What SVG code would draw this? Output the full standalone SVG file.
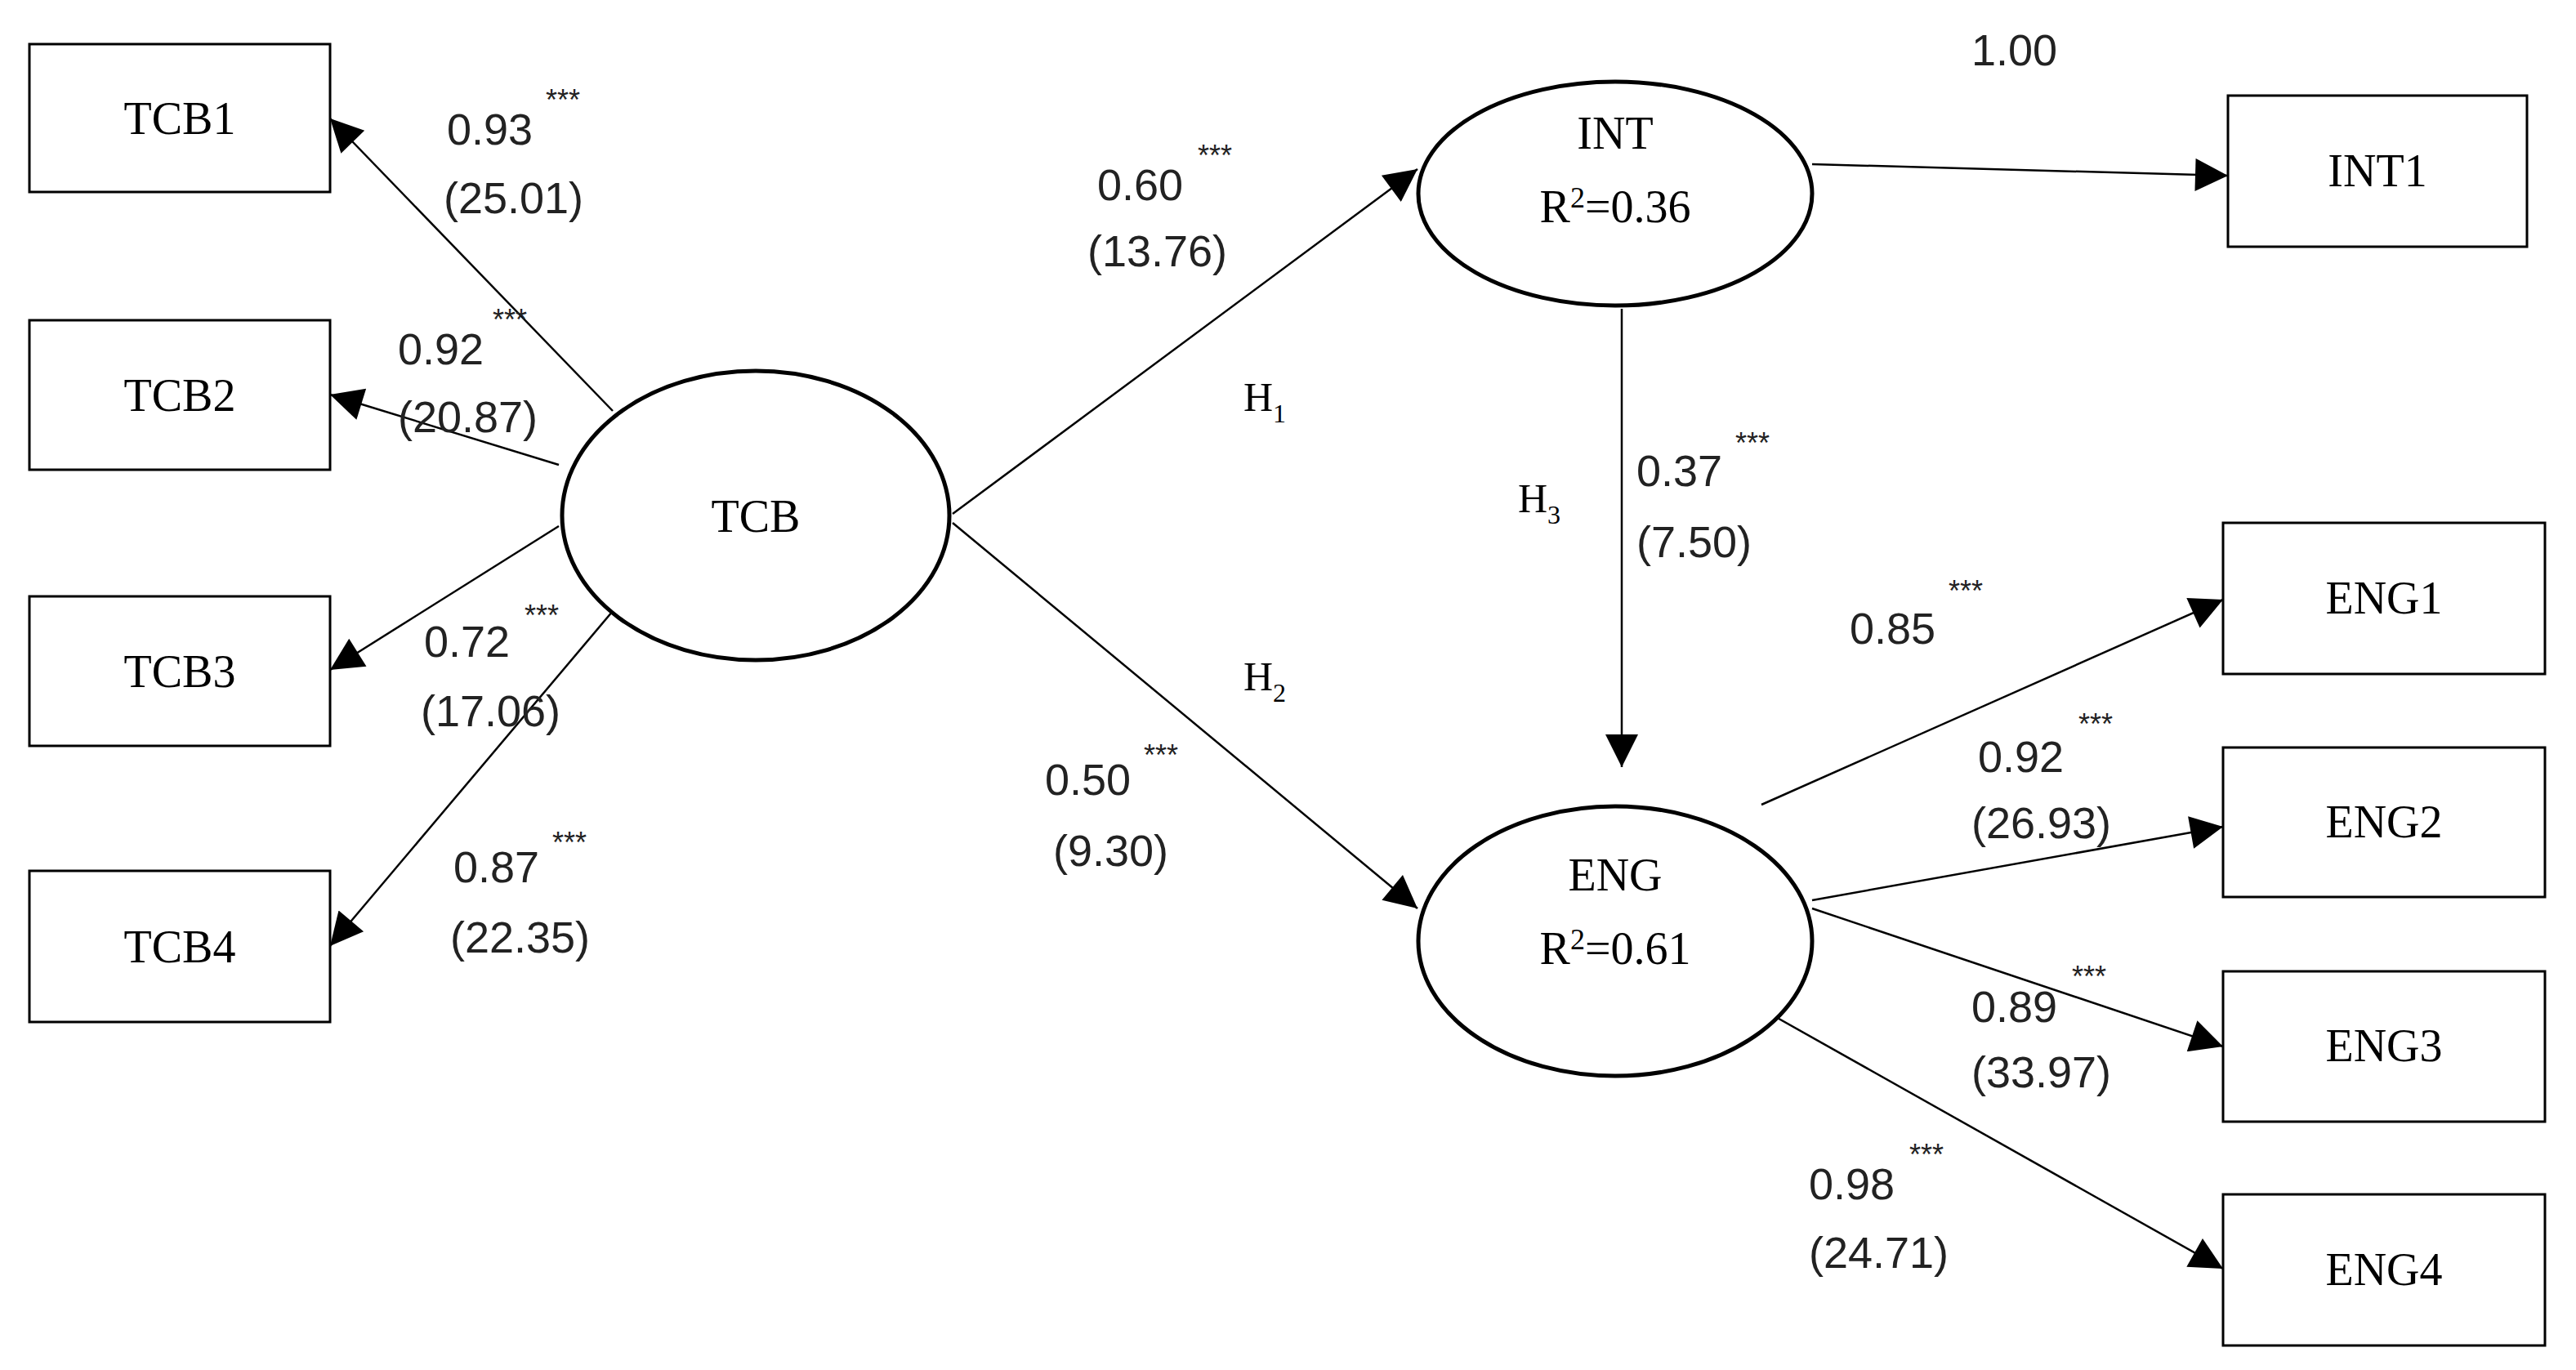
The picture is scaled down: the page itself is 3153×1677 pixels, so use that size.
<svg xmlns="http://www.w3.org/2000/svg" width="3153" height="1677" viewBox="0 0 3153 1677">
<style>
.b{fill:#fff;stroke:#000;stroke-width:3}
.e{fill:#fff;stroke:#000;stroke-width:5}
.n{font-family:"Liberation Serif",serif;font-size:56px;text-anchor:middle;fill:#000}
.l{font-family:"Liberation Sans",sans-serif;font-size:54px;fill:#222}
.s{font-family:"Liberation Sans",sans-serif;font-size:36px;fill:#222}
.h{font-family:"Liberation Serif",serif;font-size:50px;fill:#000}
.c line{stroke:#000;stroke-width:2.5}
</style>
<defs>
<marker id="a2" viewBox="0 0 10 10" refX="10" refY="5" markerWidth="42" markerHeight="40" markerUnits="userSpaceOnUse" orient="auto"><path d="M0,0L10,5L0,10z"/></marker></defs>
<rect width="3153" height="1677" fill="#fff"/>
<g class="c">
<line x1="750" y1="503" x2="404" y2="145" marker-end="url(#a2)"/>
<line x1="684" y1="569" x2="404" y2="483" marker-end="url(#a2)"/>
<line x1="684" y1="644" x2="404" y2="820" marker-end="url(#a2)"/>
<line x1="750" y1="748" x2="404" y2="1158" marker-end="url(#a2)"/>
<line x1="1166" y1="629" x2="1735" y2="207" marker-end="url(#a2)"/>
<line x1="1166" y1="640" x2="1735" y2="1112" marker-end="url(#a2)"/>
<line x1="2218" y1="201" x2="2727" y2="215" marker-end="url(#a2)"/>
<line x1="1985" y1="378" x2="1985" y2="939" marker-end="url(#a2)"/>
<line x1="2156" y1="985" x2="2721" y2="734" marker-end="url(#a2)"/>
<line x1="2218" y1="1102" x2="2721" y2="1012" marker-end="url(#a2)"/>
<line x1="2218" y1="1112" x2="2721" y2="1281" marker-end="url(#a2)"/>
<line x1="2156" y1="1235" x2="2721" y2="1553" marker-end="url(#a2)"/>
</g>
<g id="TCB1"><rect class="b" x="36" y="54" width="368" height="181"/><text class="n" x="220" y="164">TCB1</text></g>
<g id="TCB2"><rect class="b" x="36" y="392" width="368" height="183"/><text class="n" x="220" y="503">TCB2</text></g>
<g id="TCB3"><rect class="b" x="36" y="730" width="368" height="183"/><text class="n" x="220" y="841">TCB3</text></g>
<g id="TCB4"><rect class="b" x="36" y="1066" width="368" height="185"/><text class="n" x="220" y="1178">TCB4</text></g>
<g id="TCB"><ellipse class="e" cx="925" cy="631" rx="237" ry="177"/><text class="n" x="925" y="651">TCB</text></g>
<g id="INT"><ellipse class="e" cx="1977" cy="237" rx="241" ry="137"/><text class="n" x="1977" y="182">INT</text><text class="n" x="1977" y="272">R<tspan font-size="36" dy="-18">2</tspan><tspan dy="18">=0.36</tspan></text></g>
<g id="ENG"><ellipse class="e" cx="1977" cy="1152" rx="241" ry="165"/><text class="n" x="1977" y="1090">ENG</text><text class="n" x="1977" y="1180">R<tspan font-size="36" dy="-18">2</tspan><tspan dy="18">=0.61</tspan></text></g>
<g id="INT1"><rect class="b" x="2727" y="117" width="366" height="185"/><text class="n" x="2910" y="228">INT1</text></g>
<g id="ENG1"><rect class="b" x="2721" y="640" width="394" height="185"/><text class="n" x="2918" y="751">ENG1</text></g>
<g id="ENG2"><rect class="b" x="2721" y="915" width="394" height="183"/><text class="n" x="2918" y="1025">ENG2</text></g>
<g id="ENG3"><rect class="b" x="2721" y="1189" width="394" height="184"/><text class="n" x="2918" y="1299">ENG3</text></g>
<g id="ENG4"><rect class="b" x="2721" y="1462" width="394" height="185"/><text class="n" x="2918" y="1573">ENG4</text></g>
<g id="labels">
<text class="l" x="547" y="177">0.93</text><text class="s" x="668" y="135">***</text><text class="l" x="543" y="261">(25.01)</text>
<text class="l" x="487" y="446">0.92</text><text class="s" x="603" y="404">***</text><text class="l" x="487" y="529">(20.87)</text>
<text class="l" x="519" y="804">0.72</text><text class="s" x="642" y="766">***</text><text class="l" x="515" y="889">(17.06)</text>
<text class="l" x="555" y="1080">0.87</text><text class="s" x="676" y="1044">***</text><text class="l" x="551" y="1166">(22.35)</text>
<text class="l" x="1343" y="245">0.60</text><text class="s" x="1466" y="203">***</text><text class="l" x="1331" y="326">(13.76)</text>
<text class="h" x="1522" y="503">H<tspan font-size="32" dy="14">1</tspan></text>
<text class="h" x="1522" y="845">H<tspan font-size="32" dy="14">2</tspan></text>
<text class="l" x="1279" y="973">0.50</text><text class="s" x="1400" y="937">***</text><text class="l" x="1289" y="1060">(9.30)</text>
<text class="h" x="1858" y="627">H<tspan font-size="32" dy="14">3</tspan></text>
<text class="l" x="2003" y="595">0.37</text><text class="s" x="2124" y="555">***</text><text class="l" x="2003" y="682">(7.50)</text>
<text class="l" x="2413" y="80">1.00</text>
<text class="l" x="2264" y="788">0.85</text><text class="s" x="2385" y="736">***</text>
<text class="l" x="2421" y="945">0.92</text><text class="s" x="2544" y="899">***</text><text class="l" x="2413" y="1026">(26.93)</text>
<text class="l" x="2413" y="1251">0.89</text><text class="s" x="2536" y="1208">***</text><text class="l" x="2413" y="1331">(33.97)</text>
<text class="l" x="2214" y="1468">0.98</text><text class="s" x="2337" y="1426">***</text><text class="l" x="2214" y="1552">(24.71)</text>
</g>
</svg>
